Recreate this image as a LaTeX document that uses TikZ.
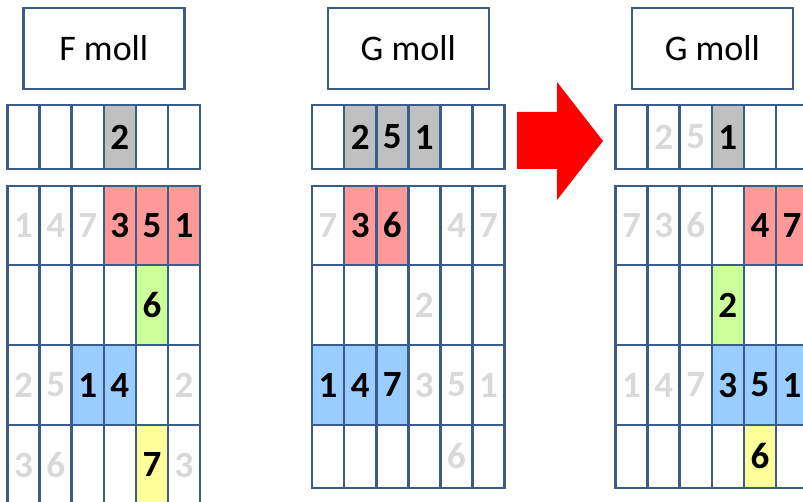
\documentclass[tikz,border=0pt]{standalone}
\usepackage{fontspec}
\setmainfont{Carlito}
\usetikzlibrary{backgrounds}
\definecolor{frame}{RGB}{56,93,138}
\definecolor{grayc}{RGB}{192,192,192}
\definecolor{redc}{RGB}{255,153,153}
\definecolor{greenc}{RGB}{204,255,153}
\definecolor{bluec}{RGB}{153,204,255}
\definecolor{yellowc}{RGB}{255,255,153}
\definecolor{ghostc}{RGB}{217,217,217}
\begin{document}
\begin{tikzpicture}[x=1pt,y=-1pt]
        \tikzstyle{titlebox} = [rectangle, draw=frame, line width=2.6pt, minimum width=161pt, minimum height=81pt, font=\fontsize{36}{36}\selectfont]
        \tikzstyle{cell} = [rectangle, draw=frame, line width=2.6pt, minimum width=32.1pt, inner sep=0pt]
        \tikzstyle{num} = [font=\bfseries\fontsize{37}{37}\selectfont]
        \tikzstyle{ghost} = [num, text=ghostc]
        \useasboundingbox (0,0) rectangle (803,502);
        \node (f) [titlebox] at (103.8, 48.5) {F moll};
        \node (g) [titlebox] at (408.3, 48.5) {G moll};
        \node (g2) [titlebox] at (712.3, 48.5) {G moll};
        % cells: panel / left edge / last row centre / last row height
        \foreach \p/\x/\ly/\lh in {f/7.5/465/80, g/312/456.5/63, g2/615.5/456.5/63} {
            \foreach \r/\y/\h in {0/137/64, 1/225.5/79, 2/305/80, 3/385/80, 4/\ly/\lh} {
                \foreach \c in {1,...,6}
                    \node (\p-\r-\c) [cell, minimum height=\h pt] at (\x+\c*32.1-16.05, \y) {};
            }
        }
        \begin{scope}[on background layer]
            \foreach \cl/\col in {f-0-4/grayc, f-1-4/redc, f-1-5/redc, f-1-6/redc, f-2-5/greenc, f-3-3/bluec, f-3-4/bluec, f-4-5/yellowc,
                    g-0-2/grayc, g-0-3/grayc, g-0-4/grayc, g-1-2/redc, g-1-3/redc, g-3-1/bluec, g-3-2/bluec, g-3-3/bluec,
                    g2-0-4/grayc, g2-1-5/redc, g2-1-6/redc, g2-2-4/greenc, g2-3-4/bluec, g2-3-5/bluec, g2-3-6/bluec, g2-4-5/yellowc}
                \fill[\col] (\cl.north west) rectangle (\cl.south east);
        \end{scope}
        \foreach \cl/\t in {f-0-4/2, f-1-4/3, f-1-5/5, f-1-6/1, f-2-5/6, f-3-3/1, f-3-4/4, f-4-5/7,
                g-0-2/2, g-0-3/5, g-0-4/1, g-1-2/3, g-1-3/6, g-3-1/1, g-3-2/4, g-3-3/7,
                g2-0-4/1, g2-1-5/4, g2-1-6/7, g2-2-4/2, g2-3-4/3, g2-3-5/5, g2-3-6/1, g2-4-5/6}
            \node (\cl-t) [num] at (\cl) {\t};
        \foreach \cl/\t in {f-1-1/1, f-1-2/4, f-1-3/7, f-3-1/2, f-3-2/5, f-3-6/2, f-4-1/3, f-4-2/6, f-4-6/3,
                g-1-1/7, g-1-5/4, g-1-6/7, g-2-4/2, g-3-4/3, g-3-5/5, g-3-6/1, g-4-5/6,
                g2-0-2/2, g2-0-3/5, g2-1-1/7, g2-1-2/3, g2-1-3/6, g2-3-1/1, g2-3-2/4, g2-3-3/7}
            \node (\cl-t) [ghost] at (\cl) {\t};
        % red arrow
        \fill[red] (517,112) -- (557,112) -- (557,82) -- (603,141) -- (557,200) -- (557,169) -- (517,169) -- cycle;
    \end{tikzpicture}
\end{document}
